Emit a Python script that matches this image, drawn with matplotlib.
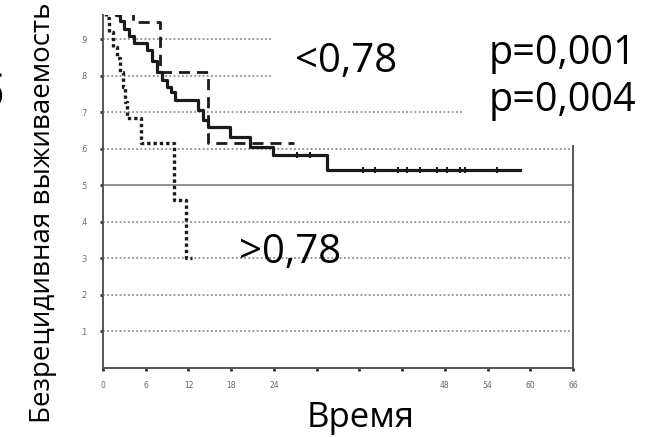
import numpy as np
import matplotlib.pyplot as plt
from matplotlib.patches import Rectangle

# Kaplan-Meier curves: time in months, cumulative relapse-free survival
t_solid = [0, 1.2, 1.8, 2.4, 3.0, 3.6, 4.3, 6.2, 6.9, 7.6, 8.3, 9.0, 9.6, 10.1,
           13.3, 14.0, 14.7, 17.8, 20.6, 23.9, 31.5]
s_solid = [1.0, 0.985, 0.967, 0.95, 0.93, 0.91, 0.89, 0.87, 0.84, 0.81, 0.79, 0.77,
           0.755, 0.734, 0.707, 0.68, 0.66, 0.633, 0.605, 0.583, 0.542]
end_solid = 58.6
# censored cases on the last two plateaus
cens_solid_a = [27.2, 29.1]
cens_solid_b = [36.5, 38.2, 41.4, 42.7, 44.5, 46.9, 48.3, 50.1, 50.8, 55.3]

t_dashed = [0, 4.2, 8.0, 14.7]
s_dashed = [1.0, 0.948, 0.81, 0.616]
end_dashed = 26.8

t_dotted = [0, 0.4, 0.9, 1.4, 1.9, 2.4, 2.8, 3.1, 3.4, 5.4, 9.9, 11.6]
s_dotted = [1.0, 0.96, 0.92, 0.88, 0.85, 0.81, 0.77, 0.73, 0.685, 0.617, 0.46, 0.30]
end_dotted = 12.5

x_ticks = [0, 6, 12, 18, 24, 30, 36, 42, 48, 54, 60, 66]
x_tick_labels = ['0', '6', '12', '18', '24', '30', '36', '42', '48', '54', '60', '66']
y_ticks = [0.1, 0.2, 0.3, 0.4, 0.5, 0.6, 0.7, 0.8, 0.9]
y_tick_labels = ['.1', '.2', '.3', '.4', '.5', '.6', '.7', '.8', '.9']

W, H = 656, 437


def fx(px):
    return px / W


def fy(py):
    return 1 - py / H


fig = plt.figure(figsize=(W / 100, H / 100), dpi=100)
fig.patch.set_facecolor('white')
ax = fig.add_axes([fx(103), fy(368), fx(573) - fx(103), fy(15) - fy(368)])
ax.set_xlim(0, 66)
ax.set_ylim(0, 0.967)

# reference lines
for y in y_ticks:
    if y == 0.5:
        ax.axhline(y, color='#888888', lw=1.3, zorder=1)
    else:
        ax.axhline(y, color='#909090', lw=1.3, ls=(0, (1, 1.3)), zorder=1)


def km(t, s, end):
    return np.append(t, end), np.append(s, s[-1])


x, y = km(t_solid, s_solid, end_solid)
ax.step(x, y, where='post', color='#1a1a1a', lw=2.3, zorder=3)
ax.plot(cens_solid_a, [s_solid[-2]] * len(cens_solid_a), ls='none', marker='|',
        ms=4, mew=1.5, color='#1a1a1a', zorder=3)
ax.plot(cens_solid_b, [s_solid[-1]] * len(cens_solid_b), ls='none', marker='|',
        ms=4, mew=1.5, color='#1a1a1a', zorder=3)

x, y = km(t_dashed, s_dashed, end_dashed)
ax.step(x, y, where='post', color='#1a1a1a', lw=2.0, ls=(0, (4, 2.5)), zorder=3)

x, y = km(t_dotted, s_dotted, end_dotted)
ax.step(x, y, where='post', color='#1a1a1a', lw=2.4, ls=(0, (1, 0.9)), zorder=3)

ax.set_xticks(x_ticks)
ax.set_xticklabels(x_tick_labels)
ax.set_yticks(y_ticks)
ax.set_yticklabels(y_tick_labels)
ax.tick_params(axis='x', length=2, width=2, color='#333333', labelsize=5.5,
               labelcolor='#666666', pad=7)
ax.tick_params(axis='y', length=2, width=2, color='#333333', labelsize=5.5,
               labelcolor='#666666', pad=9)
for side in ['left', 'bottom', 'right']:
    ax.spines[side].set_color('#555555')
    ax.spines[side].set_linewidth(1.4)
ax.spines['top'].set_visible(False)


def white_box(x0, y0, x1, y1):
    fig.add_artist(Rectangle((fx(x0), fy(y1)), fx(x1) - fx(x0), fy(y0) - fy(y1),
                             transform=fig.transFigure, facecolor='white',
                             edgecolor='none', zorder=5))


white_box(272, 0, 463, 97)
white_box(463, 0, 656, 145)
white_box(287, 376, 432, 437)

font = 'Open Sans'
fig.text(fx(346), fy(62), '<0,78', fontsize=29, family=font, ha='center', va='center', zorder=6)
fig.text(fx(290), fy(253), '>0,78', fontsize=29, family=font, ha='center', va='center', zorder=6)
fig.text(fx(562), fy(54), 'p=0,001', fontsize=28.5, family=font, ha='center', va='center', zorder=6)
fig.text(fx(562), fy(101), 'p=0,004', fontsize=28.5, family=font, ha='center', va='center', zorder=6)
fig.text(fx(361), fy(418), 'Время', fontsize=25, family=font, ha='center', va='center', zorder=6)
fig.text(fx(43), fy(213), 'Безрецидивная выживаемость', fontsize=20, family=font,
         rotation=90, ha='center', va='center', zorder=6)
# panel letter, mostly outside the left edge
fig.text(fx(4), fy(107), 'б', fontsize=32, family=font, ha='right', va='baseline', zorder=6)

fig.savefig('out.png', dpi=100)
